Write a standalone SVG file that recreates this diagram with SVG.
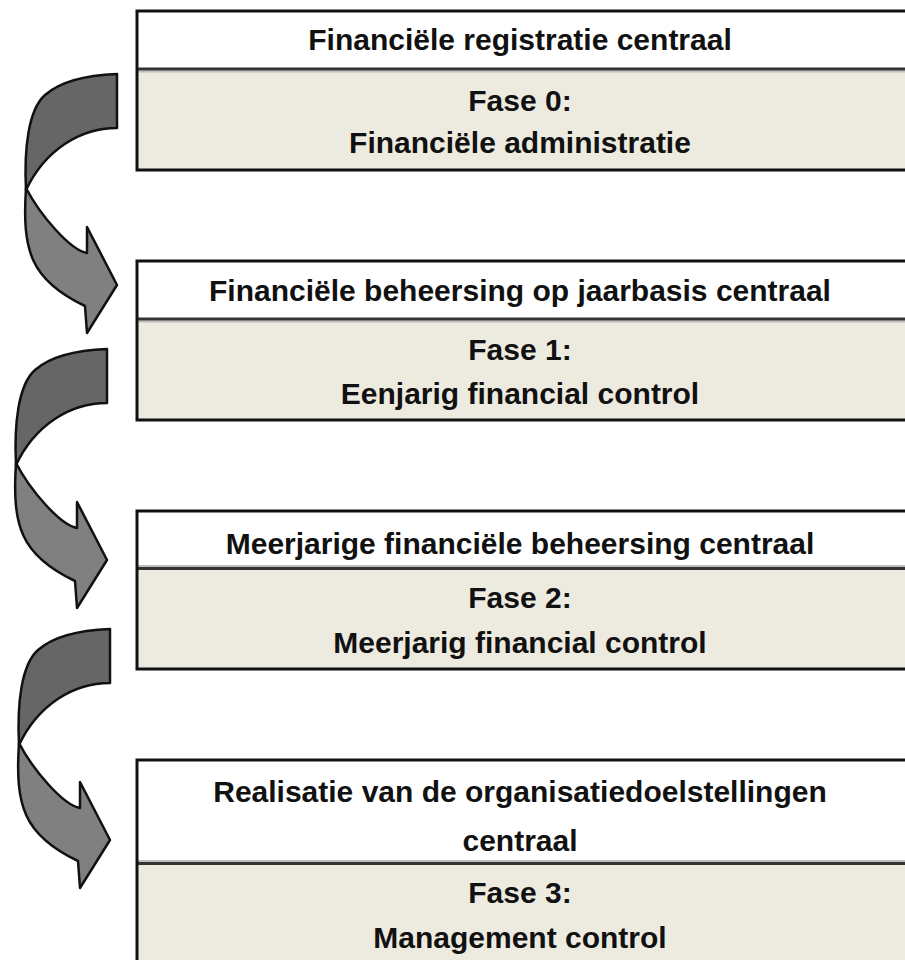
<svg xmlns="http://www.w3.org/2000/svg" xmlns:xlink="http://www.w3.org/1999/xlink" width="905" height="960" viewBox="0 0 905 960">
<style>
.hdr{fill:#ffffff}
.body{fill:#edeadf}
.frame{fill:none;stroke:#111111;stroke-width:3}
.div{stroke:#333333;stroke-width:3}
.divl{stroke:#bdbdbd;stroke-width:2}
.t{font-family:"Liberation Sans",Arial,sans-serif;font-weight:bold;font-size:30px;fill:#111111;text-anchor:middle}
.back{fill:#666666;stroke:#111111;stroke-width:2.5;stroke-linejoin:round}
.front{fill:#808080;stroke:#111111;stroke-width:2.5;stroke-linejoin:round}
</style>
<defs>
<g id="arrow">
<path class="back" d="M117,74 L117,128 C80,128 45,150 26,190 C24,150 28,110 45,95 C62,80 90,75 117,74 Z"/>
<path class="front" d="M26,188 C22,250 30,280 85,306 L87,333 L117,285 L87,227 L87,253 C70,250 40,215 26,188 Z"/>
</g>
</defs>
<rect width="905" height="960" fill="#ffffff"/>
<g id="connectors">
<use xlink:href="#arrow" href="#arrow"/>
<use xlink:href="#arrow" href="#arrow" transform="translate(-10,275)"/>
<use xlink:href="#arrow" href="#arrow" transform="translate(-7,555)"/>
</g>
<g id="phase0">
<rect class="hdr" x="137" y="11" width="800" height="58"/>
<rect class="body" x="137" y="69" width="800" height="101"/>
<line class="divl" x1="137" y1="71.5" x2="937" y2="71.5"/>
<line class="div" x1="137" y1="69" x2="937" y2="69"/>
<rect class="frame" x="137" y="11" width="800" height="159"/>
<text class="t" x="520" y="50">Financiële registratie centraal</text>
<text class="t" x="520" y="111">Fase 0:</text>
<text class="t" x="520" y="153">Financiële administratie</text>
</g>
<g id="phase1">
<rect class="hdr" x="137" y="261" width="800" height="58"/>
<rect class="body" x="137" y="319" width="800" height="101"/>
<line class="divl" x1="137" y1="321.5" x2="937" y2="321.5"/>
<line class="div" x1="137" y1="319" x2="937" y2="319"/>
<rect class="frame" x="137" y="261" width="800" height="159"/>
<text class="t" x="520" y="301">Financiële beheersing op jaarbasis centraal</text>
<text class="t" x="520" y="360">Fase 1:</text>
<text class="t" x="520" y="404">Eenjarig financial control</text>
</g>
<g id="phase2">
<rect class="hdr" x="137" y="511" width="800" height="57"/>
<rect class="body" x="137" y="568" width="800" height="101"/>
<line class="divl" x1="137" y1="566" x2="937" y2="566"/>
<line class="div" x1="137" y1="568.5" x2="937" y2="568.5"/>
<rect class="frame" x="137" y="511" width="800" height="158"/>
<text class="t" x="520" y="554">Meerjarige financiële beheersing centraal</text>
<text class="t" x="520" y="608">Fase 2:</text>
<text class="t" x="520" y="653">Meerjarig financial control</text>
</g>
<g id="phase3">
<rect class="hdr" x="137" y="760" width="800" height="103"/>
<rect class="body" x="137" y="863" width="800" height="140"/>
<line class="divl" x1="137" y1="861" x2="937" y2="861"/>
<line class="div" x1="137" y1="863.5" x2="937" y2="863.5"/>
<rect class="frame" x="137" y="760" width="800" height="240"/>
<text class="t" x="520" y="802">Realisatie van de organisatiedoelstellingen</text>
<text class="t" x="520" y="851">centraal</text>
<text class="t" x="520" y="903">Fase 3:</text>
<text class="t" x="520" y="948">Management control</text>
</g>
</svg>
